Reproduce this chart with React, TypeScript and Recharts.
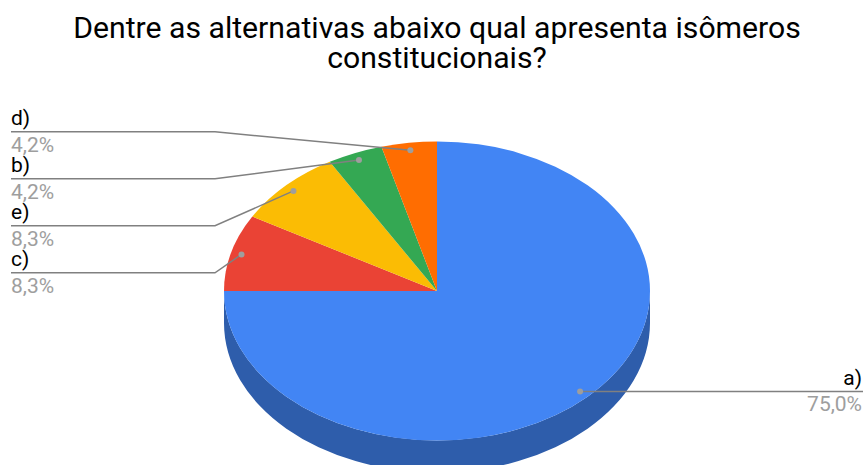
import { Pie, PieChart } from "recharts";

const options = ["a)", "c)", "e)", "b)", "d)"];
const shares = [75.0, 8.3, 8.3, 4.2, 4.2];
const colors = ["#4285f4", "#ea4335", "#fbbc04", "#34a853", "#ff6d01"];
const titleLines = [
  "Dentre as alternativas abaixo qual apresenta isômeros",
  "constitucionais?",
];

const pieData = options.map((name, i) => ({ name, value: shares[i], fill: colors[i] }));

const RX = 213;
const SQUASH = 149.5 / 213; // pie is tilted, so y radius is smaller
const DEPTH = 32;
const DOT_AT = 0.95;
const RAD = Math.PI / 180;

const px = (cx: number, r: number, a: number) => cx + r * Math.cos(a * RAD);
const py = (cy: number, r: number, a: number) => cy - r * SQUASH * Math.sin(a * RAD);

function TopSlice(props: any) {
  const { cx, cy, outerRadius: r, startAngle, endAngle, fill } = props;
  const large = Math.abs(endAngle - startAngle) > 180 ? 1 : 0;
  const d = `M${cx},${cy} L${px(cx, r, startAngle)},${py(cy, r, startAngle)} A${r},${r * SQUASH} 0 ${large} 1 ${px(cx, r, endAngle)},${py(cy, r, endAngle)} Z`;
  return <path d={d} fill={fill} />;
}

// only the part of the rim in the front half of the pie shows
function SideSlice(props: any) {
  const { cx, cy, outerRadius: r, startAngle, endAngle } = props;
  const from = Math.min(startAngle, 0);
  const to = Math.max(endAngle, -180);
  if (from <= to) return <g />;
  const ry = r * SQUASH;
  const large = from - to > 180 ? 1 : 0;
  const d = `M${px(cx, r, from)},${py(cy, r, from)} A${r},${ry} 0 ${large} 1 ${px(cx, r, to)},${py(cy, r, to)} L${px(cx, r, to)},${py(cy, r, to) + DEPTH} A${r},${ry} 0 ${large} 0 ${px(cx, r, from)},${py(cy, r, from) + DEPTH} Z`;
  return <path d={d} fill="#2e5dab" />;
}

const rowY = (index: number, dotY: number) => (index === 0 ? dotY : 272.8 - (index - 1) * 47);

function CalloutLine(props: any) {
  const { cx, cy, outerRadius: r, midAngle, index } = props;
  const dotX = px(cx, r * DOT_AT, midAngle);
  const dotY = py(cy, r * DOT_AT, midAngle);
  const y = rowY(index, dotY);
  const pts = index === 0 ? `${dotX},${dotY} 863,${y}` : `${dotX},${dotY} 215,${y} 11,${y}`;
  return (
    <g>
      <polyline points={pts} fill="none" stroke="#808080" strokeWidth={1.5} />
      <circle cx={dotX} cy={dotY} r={3} fill="#9e9e9e" />
    </g>
  );
}

function CalloutLabel(props: any) {
  const { cx, cy, outerRadius: r, midAngle, index } = props;
  const y = rowY(index, py(cy, r * DOT_AT, midAngle));
  const right = index === 0;
  const x = right ? 862 : 11;
  const anchor = right ? "end" : "start";
  return (
    <g fontFamily="Roboto" fontSize={21}>
      <text x={x} y={y - 6.5} textAnchor={anchor} fill="#000000">{options[index]}</text>
      <text x={x} y={y + 20} textAnchor={anchor} fill="#9e9e9e">
        {`${shares[index].toFixed(1).replace(".", ",")}%`}
      </text>
    </g>
  );
}

export default function App() {
  return (
    <div style={{ position: "absolute", left: 0, top: 0, width: 865, height: 465, overflow: "hidden", background: "#fff" }}>
      <PieChart width={865} height={465} margin={{ top: 0, right: 0, bottom: 0, left: 0 }}>
        <text x={437} y={38} textAnchor="middle" fontFamily="Roboto" fontSize={30.2} fill="#000000">{titleLines[0]}</text>
        <text x={437} y={68} textAnchor="middle" fontFamily="Roboto" fontSize={30.2} fill="#000000">{titleLines[1]}</text>
        <Pie
          data={pieData}
          dataKey="value"
          nameKey="name"
          cx={437}
          cy={291}
          outerRadius={RX}
          startAngle={90}
          endAngle={-270}
          paddingAngle={0}
          stroke="none"
          shape={SideSlice}
          label={false}
          labelLine={false}
          isAnimationActive={false}
        />
        <Pie
          data={pieData}
          dataKey="value"
          nameKey="name"
          cx={437}
          cy={291}
          outerRadius={RX}
          startAngle={90}
          endAngle={-270}
          paddingAngle={0}
          stroke="none"
          shape={TopSlice}
          label={CalloutLabel}
          labelLine={CalloutLine}
          isAnimationActive={false}
        />
      </PieChart>
    </div>
  );
}
